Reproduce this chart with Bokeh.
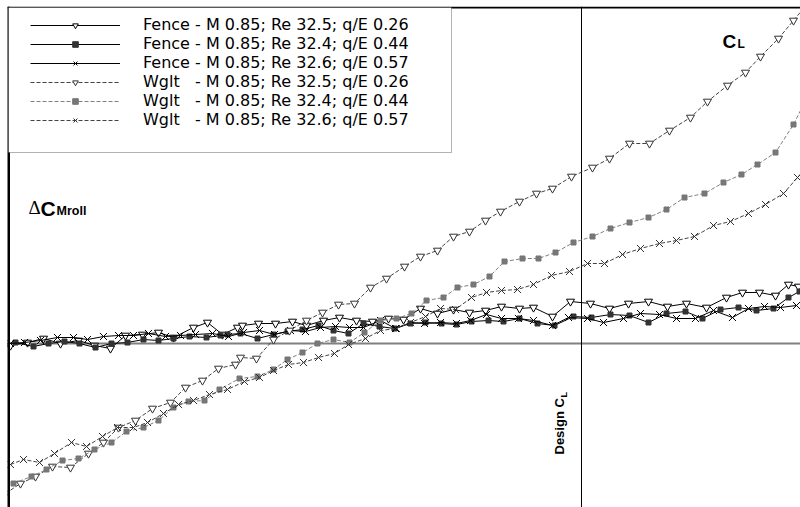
import math
from bokeh.plotting import figure
from bokeh.models import Range1d, Span, BoxAnnotation, Label, Legend, LegendItem
from bokeh.embed import file_html
from bokeh.resources import INLINE

# ---- data (C_L axis position, delta C_Mroll) ----
cl_fence_026 = [10, 27, 43, 60, 78, 94, 110, 125, 142, 158, 173, 193, 207, 222, 237, 242, 258, 275, 292, 306,
                323, 339, 356, 372, 388, 403, 420, 437, 453, 469, 485, 501, 519, 533, 552, 570, 590, 609, 628, 648,
                667, 686, 706, 726, 742, 759, 775, 788, 798]
dc_fence_026 = [-2, 1, 5, 0, 3, -2, -5, 8, 9, 11, 6, 16, 21, 9, 16, 18, 20, 20, 22, 18,
                23, 26, 23, 22, 25, 24, 35, 30, 34, 31, 33, 37, 35, 36, 27, 42, 40, 35, 40, 42,
                37, 40, 36, 46, 51, 51, 48, 59, 57]

cl_fence_044 = [15, 33, 48, 64, 79, 95, 111, 127, 143, 158, 173, 189, 206, 220, 227, 240, 257, 273, 287, 302,
                318, 333, 348, 363, 379, 394, 410, 425, 441, 456, 471, 488, 503, 519, 537, 554, 573, 591, 610, 629,
                648, 666, 685, 702, 720, 738, 756, 773, 788, 799]
dc_fence_044 = [1, -3, 0, 2, 0, -4, 0, 1, 4, 3, 5, 7, 6, 8, 9, 10, 5, 9, 12, 14,
                18, 13, 10, 20, 17, 15, 20, 21, 20, 19, 22, 23, 22, 25, 20, 18, 27, 26, 29, 28,
                21, 30, 32, 25, 34, 36, 33, 35, 46, 52]

cl_fence_057 = [10, 24, 40, 57, 73, 87, 103, 118, 133, 148, 165, 180, 195, 212, 228, 243, 259, 274, 290, 305,
                320, 335, 349, 363, 380, 395, 410, 424, 440, 456, 470, 486, 501, 518, 533, 552, 568, 587, 603, 623,
                640, 659, 676, 695, 713, 732, 748, 764, 780, 796]
dc_fence_057 = [0, 1, 3, 6, 6, 4, 7, 8, 8, 10, 7, 8, 9, 10, 7, 11, 13, 9, 13, 12,
                16, 17, 16, 16, 23, 15, 21, 20, 21, 20, 23, 29, 25, 25, 23, 18, 26, 25, 21, 25,
                30, 29, 25, 25, 33, 26, 35, 37, 36, 38]

cl_wglt_026 = [5, 20, 35, 52, 70, 88, 103, 118, 135, 152, 170, 185, 202, 218, 235, 240, 256, 273, 289, 306,
               322, 338, 354, 370, 386, 404, 420, 437, 453, 469, 485, 500, 519, 536, 552, 571, 592, 609, 629, 649,
               669, 690, 707, 727, 745, 760, 778, 793, 808]
dc_wglt_026 = [-150, -140, -133, -123, -124, -110, -99, -84, -77, -65, -59, -44, -37, -25, -21, -14, -15, 4, 13, 23,
               31, 39, 40, 56, 65, 77, 87, 93, 107, 112, 123, 132, 142, 150, 155, 167, 176, 185, 200, 200,
               213, 226, 242, 258, 271, 287, 305, 323, 341]

cl_wglt_044 = [13, 31, 46, 62, 78, 94, 111, 126, 143, 158, 173, 188, 204, 219, 239, 257, 273, 287, 302, 317,
               333, 349, 364, 380, 396, 411, 426, 443, 457, 473, 489, 504, 522, 538, 555, 573, 592, 610, 629, 648,
               666, 684, 704, 723, 741, 757, 775, 793, 810]
dc_wglt_044 = [-140, -133, -126, -117, -115, -106, -99, -88, -84, -77, -64, -58, -57, -46, -35, -33, -26, -16, -9, 0,
               4, 1, 11, 23, 25, 30, 43, 46, 56, 59, 67, 82, 85, 85, 91, 101, 107, 115, 121, 126,
               134, 146, 150, 161, 169, 179, 191, 219, 253]

cl_wglt_057 = [10, 23, 39, 54, 71, 86, 102, 117, 133, 147, 163, 178, 193, 209, 227, 244, 259, 273, 288, 303,
               318, 334, 348, 365, 380, 396, 410, 425, 440, 455, 471, 486, 501, 517, 533, 551, 569, 587, 604, 622,
               640, 659, 676, 694, 713, 730, 748, 765, 783, 797, 812]
dc_wglt_057 = [-121, -116, -119, -110, -99, -103, -93, -84, -84, -79, -70, -61, -57, -51, -46, -38, -34, -27, -21, -19,
               -14, -10, -1, 5, 13, 15, 21, 27, 35, 34, 46, 51, 53, 54, 59, 68, 72, 80, 80, 89,
               95, 100, 103, 107, 118, 122, 130, 139, 150, 166, 183]

labels = [
    "Fence - M 0.85; Re 32.5; q/E 0.26",
    "Fence - M 0.85; Re 32.4; q/E 0.44",
    "Fence - M 0.85; Re 32.6; q/E 0.57",
    "Wglt\u00a0\u00a0\u00a0- M 0.85; Re 32.5; q/E 0.26",
    "Wglt\u00a0\u00a0\u00a0- M 0.85; Re 32.4; q/E 0.44",
    "Wglt\u00a0\u00a0\u00a0- M 0.85; Re 32.6; q/E 0.57",
]
design_cl = 581
legend_right_cl = 451

p = figure(width=800, height=507, output_backend="svg", toolbar_location=None,
           x_range=Range1d(7, 800), y_range=Range1d(-164, 337),
           min_border_left=7, min_border_top=6, min_border_right=0, min_border_bottom=0,
           x_axis_location=None, y_axis_location=None, outline_line_color=None,
           background_fill_color="white", border_fill_color="white")
p.grid.grid_line_color = None

# reference lines
p.add_layout(Span(location=0, dimension="width", line_color="#808080", line_width=2, level="underlay"))
p.add_layout(Span(location=design_cl, dimension="height", line_color="black", line_width=1, level="underlay"))

series = [
    (cl_fence_026, dc_fence_026, "black", "solid", "inverted_triangle", 8, "black", "white"),
    (cl_fence_044, dc_fence_044, "black", "solid", "square", 5, "#333333", "#333333"),
    (cl_fence_057, dc_fence_057, "black", "solid", "x", 10, "black", None),
    (cl_wglt_026, dc_wglt_026, "#444444", "4 2", "inverted_triangle", 8, "#333333", "white"),
    (cl_wglt_044, dc_wglt_044, "#808080", "4 2", "square", 5, "#777777", "#777777"),
    (cl_wglt_057, dc_wglt_057, "#444444", "4 2", "x", 10, "#333333", None),
]

items = []
for (xs, ys, lc, dash, mk, sz, mlc, mfc), lab in zip(series, labels):
    rl = p.line(xs, ys, line_color=lc, line_width=1, line_dash=dash)
    if mfc is None:
        rm = p.scatter(xs, ys, marker=mk, size=sz, line_color=mlc, line_width=1)
    else:
        rm = p.scatter(xs, ys, marker=mk, size=sz, line_color=mlc, fill_color=mfc, line_width=1)
    items.append(LegendItem(label=lab, renderers=[rl, rm]))

# frame borders (left and top)
p.add_layout(Span(location=8, dimension="height", line_color="black", line_width=3))
p.add_layout(Span(location=336, dimension="width", line_color="black", line_width=2))

# legend box
p.add_layout(BoxAnnotation(left=8, right=legend_right_cl, top=336, bottom=191,
                           fill_color="white", fill_alpha=1, line_color="black", line_width=1))

legend = Legend(items=items, location=(23, 378), padding=0, margin=0, spacing=0,
                glyph_width=90, glyph_height=14, label_height=18, label_standoff=23,
                label_text_font="DejaVu Sans", label_text_font_size="16px", label_text_color="black",
                border_line_color=None, background_fill_alpha=0)
p.add_layout(legend)

# text labels
bold = dict(text_font="Liberation Sans", text_font_style="bold", text_color="black", text_baseline="alphabetic")
p.add_layout(Label(x=722, y=302, text="C", text_font_size="19px", **bold))
p.add_layout(Label(x=737, y=300, text="L", text_font_size="12px", **bold))

p.add_layout(Label(x=28, y=136, text="\u0394", text_font="Liberation Serif", text_font_size="19px",
                   text_color="black", text_baseline="alphabetic"))
p.add_layout(Label(x=40, y=135, text="C", text_font_size="21px", **bold))
p.add_layout(Label(x=56, y=133, text="Mroll", text_font_size="12.5px", **bold))

p.add_layout(Label(x=559, y=-111, angle=math.pi / 2, text="Design C", text_font_size="13px", **bold))
p.add_layout(Label(x=563, y=-54, angle=math.pi / 2, text="L", text_font_size="9px", **bold))

open("out.html", "w").write(file_html(p, INLINE))
